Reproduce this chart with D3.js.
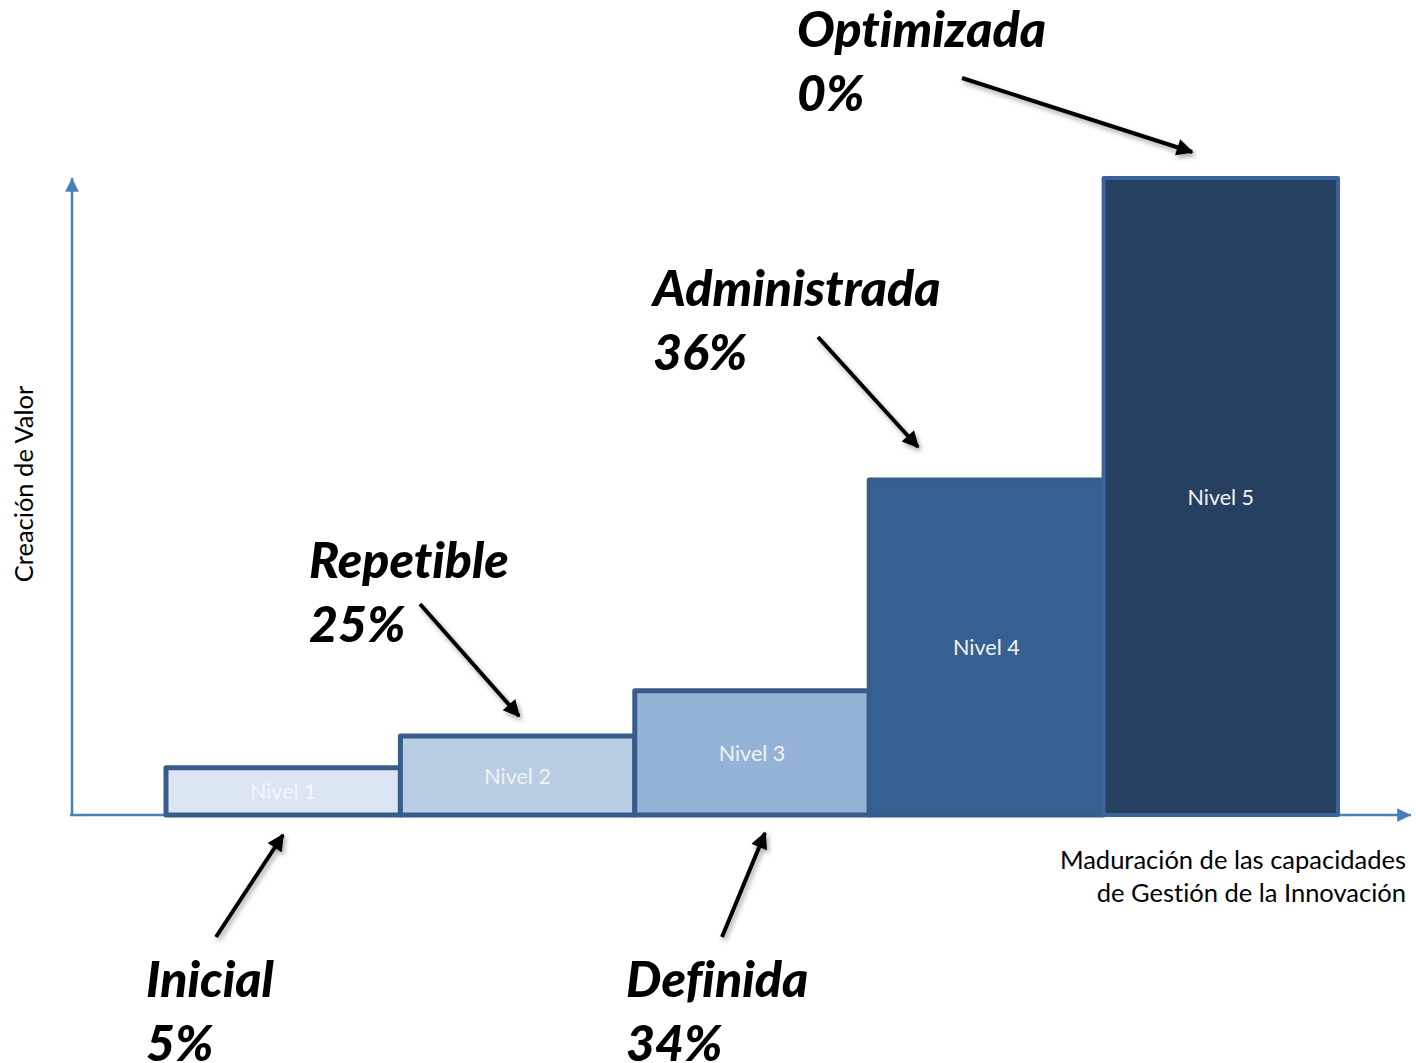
<!DOCTYPE html>
<html>
<head>
<meta charset="utf-8">
<script src="https://cdn.jsdelivr.net/npm/d3@7"></script>
<style>
  body { margin: 0; background: #fff; }
  svg { display: block; }
  text { font-variant-ligatures: none; font-feature-settings: "liga" 0; }
</style>
</head>
<body>
<div id="chart"></div>
<script>
// data
var levels = ["Nivel 1", "Nivel 2", "Nivel 3", "Nivel 4", "Nivel 5"];
var values = [7.4, 12.4, 19.5, 52.6, 100];
var stageNames = ["Inicial", "Repetible", "Definida", "Administrada", "Optimizada"];
var stagePct = ["5%", "25%", "34%", "36%", "0%"];

var W = 1416, H = 1063;
var svg = d3.select("#chart").append("svg")
    .attr("width", W)
    .attr("height", H);

var defs = svg.append("defs");
defs.append("marker")
    .attr("id", "axisHead")
    .attr("viewBox", "0 0 10 10")
    .attr("refX", 10).attr("refY", 5)
    .attr("markerWidth", 6).attr("markerHeight", 5.5)
    .attr("markerUnits", "strokeWidth")
    .attr("orient", "auto")
  .append("path")
    .attr("d", "M0,0L10,5L0,10Z")
    .attr("fill", "#4a7ebb");
defs.append("marker")
    .attr("id", "blackHead")
    .attr("viewBox", "0 0 10 10")
    .attr("refX", 9).attr("refY", 5)
    .attr("markerWidth", 4.6).attr("markerHeight", 4.2)
    .attr("markerUnits", "strokeWidth")
    .attr("orient", "auto")
  .append("path")
    .attr("d", "M0,0L10,5L0,10Z")
    .attr("fill", "#000");
var f = defs.append("filter").attr("id", "shadow")
    .attr("x", "-20%").attr("y", "-20%").attr("width", "140%").attr("height", "140%");
f.append("feDropShadow")
    .attr("dx", 2).attr("dy", 3).attr("stdDeviation", 2.5)
    .attr("flood-color", "#000").attr("flood-opacity", 0.35);

// scales
var x = d3.scaleBand().domain(levels).range([166, 1338]).padding(0);
var y = d3.scaleLinear().domain([0, 100]).range([815, 178]);
var fill = d3.scaleOrdinal().domain(levels)
    .range(["#dce6f2", "#b9cde5", "#95b3d7", "#376092", "#254061"]);
var stroke = d3.scaleOrdinal().domain(levels)
    .range(["#385d8a", "#385d8a", "#385d8a", "#385d8a", "#3b6399"]);

// axes
svg.append("line")
    .attr("x1", 72).attr("y1", y(0)).attr("x2", 72).attr("y2", y(100))
    .attr("stroke", "#4a7ebb").attr("stroke-width", 2.5)
    .attr("marker-end", "url(#axisHead)");
svg.append("line")
    .attr("x1", 70).attr("y1", y(0)).attr("x2", 1411).attr("y2", y(0))
    .attr("stroke", "#4a7ebb").attr("stroke-width", 2.5)
    .attr("marker-end", "url(#axisHead)");

// bars
svg.selectAll("rect.bar")
  .data(levels)
  .enter()
  .append("rect")
    .attr("class", "bar")
    .attr("x", function(d) { return x(d); })
    .attr("width", x.bandwidth())
    .attr("y", function(d, i) { return y(values[i]); })
    .attr("height", function(d, i) { return y(0) - y(values[i]); })
    .attr("fill", function(d) { return fill(d); })
    .attr("stroke", function(d) { return stroke(d); })
    .attr("stroke-width", function(d, i) { return i == 4 ? 4 : 5; })
    .attr("stroke-linejoin", "round");

// bar labels, centred in each bar
svg.selectAll("text.lvl")
  .data(levels)
  .enter()
  .append("text")
    .attr("class", "lvl")
    .attr("x", function(d) { return x(d) + x.bandwidth() / 2; })
    .attr("y", function(d, i) { return (y(values[i]) + y(0)) / 2 + 8; })
    .attr("text-anchor", "middle")
    .attr("font-family", "Lato, 'Open Sans', sans-serif")
    .attr("font-size", 21.5)
    .attr("fill", function(d, i) { return i == 0 ? "#f4f7fb" : "#f2f2f2"; })
    .text(function(d) { return d; });

// axis titles
svg.append("text")
    .attr("transform", "translate(33,484) rotate(-90)")
    .attr("text-anchor", "middle")
    .attr("font-family", "Lato, 'Open Sans', sans-serif")
    .attr("font-size", 25.5)
    .attr("fill", "#000")
    .text("Creación de Valor");
var xt = svg.append("text")
    .attr("text-anchor", "end")
    .attr("font-family", "Lato, 'Open Sans', sans-serif")
    .attr("font-size", 25.5)
    .attr("fill", "#000");
xt.append("tspan").attr("x", 1406).attr("y", 869).text("Maduración de las capacidades");
xt.append("tspan").attr("x", 1406).attr("y", 902).text("de Gestión de la Innovación");

// annotations: label position and arrow (start -> end), per stage
var notes = [
  {tx: 146, ty: 997, a: [216, 937, 283, 835]},
  {tx: 309, ty: 578, a: [420, 604, 519, 716]},
  {tx: 626, ty: 997, a: [722, 937, 765, 833]},
  {tx: 653, ty: 306, a: [818, 337, 918, 447]},
  {tx: 797, ty: 47,  a: [962, 78, 1192, 152]}
];

var ann = svg.selectAll("g.note")
  .data(stageNames)
  .enter()
  .append("g")
    .attr("class", "note");
ann.append("line")
    .attr("x1", function(d, i) { return notes[i].a[0]; })
    .attr("y1", function(d, i) { return notes[i].a[1]; })
    .attr("x2", function(d, i) { return notes[i].a[2]; })
    .attr("y2", function(d, i) { return notes[i].a[3]; })
    .attr("stroke", "#000")
    .attr("stroke-width", 4)
    .attr("marker-end", "url(#blackHead)")
    .attr("filter", "url(#shadow)");
var t = ann.append("text")
    .attr("font-family", "Lato, 'Open Sans', sans-serif")
    .attr("font-weight", 900)
    .attr("font-style", "italic")
    .attr("font-size", 50)
    .attr("fill", "#000");
t.append("tspan")
    .attr("x", function(d, i) { return notes[i].tx; })
    .attr("y", function(d, i) { return notes[i].ty; })
    .text(function(d) { return d; });
t.append("tspan")
    .attr("x", function(d, i) { return notes[i].tx; })
    .attr("y", function(d, i) { return notes[i].ty + 64; })
    .text(function(d, i) { return stagePct[i]; });
</script>
</body>
</html>
